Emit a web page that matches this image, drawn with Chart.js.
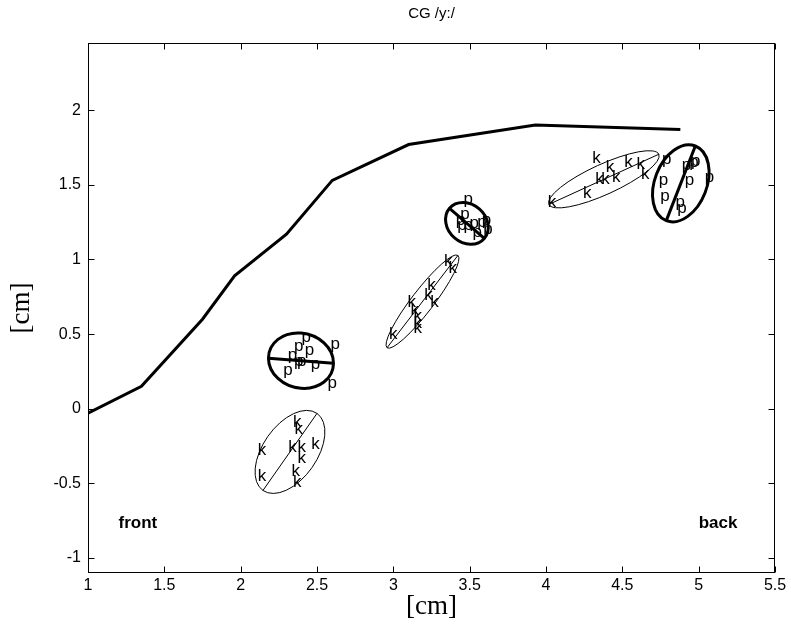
<!DOCTYPE html>
<html>
<head>
<meta charset="utf-8">
<script src="https://cdn.jsdelivr.net/npm/chart.js@4.4.1/dist/chart.umd.min.js"></script>
<style>
  html, body { margin: 0; padding: 0; background: #fff; }
  canvas { display: block; }
</style>
</head>
<body>
<canvas id="cg" width="791" height="626"></canvas>
<script>
// tick values
const xTicks = [1, 1.5, 2, 2.5, 3, 3.5, 4, 4.5, 5, 5.5];
const yTicks = [-1, -0.5, 0, 0.5, 1, 1.5, 2];

// thick CG line
const lineX = [1.0, 1.35, 1.75, 1.96, 2.30, 2.60, 3.10, 3.93, 4.88];
const lineY = [-0.03, 0.15, 0.60, 0.89, 1.17, 1.53, 1.77, 1.90, 1.87];

// "k" tokens
const kX = [2.37, 2.38, 2.14, 2.34, 2.40, 2.40, 2.49, 2.14, 2.36, 2.37,
            3.36, 3.39, 3.25, 3.23, 3.27, 3.12, 3.14, 3.16, 3.16, 3.16, 3.00,
            4.33, 4.42, 4.54, 4.62, 4.35, 4.39, 4.46, 4.65, 4.27, 4.04];
const kY = [-0.09, -0.14, -0.28, -0.26, -0.26, -0.33, -0.24, -0.45, -0.42, -0.49,
            0.99, 0.94, 0.83, 0.76, 0.71, 0.71, 0.66, 0.62, 0.57, 0.54, 0.50,
            1.68, 1.62, 1.65, 1.64, 1.54, 1.54, 1.55, 1.57, 1.44, 1.38];

// "p" tokens
const pX = [2.43, 2.38, 2.45, 2.62, 2.34, 2.38, 2.40, 2.49, 2.31, 2.60,
            3.49, 3.47, 3.44, 3.45, 3.49, 3.53, 3.58, 3.61, 3.62, 3.55,
            4.79, 4.92, 4.97, 4.98, 5.07, 4.77, 4.94, 4.78, 4.88, 4.89];
const pY = [0.46, 0.40, 0.37, 0.41, 0.34, 0.30, 0.30, 0.28, 0.24, 0.15,
            1.38, 1.28, 1.24, 1.21, 1.21, 1.22, 1.23, 1.24, 1.18, 1.16,
            1.65, 1.61, 1.63, 1.64, 1.53, 1.51, 1.51, 1.40, 1.36, 1.32];

// ellipses: centre + two conjugate semi-axes (u = major)
const ellKind = ["p", "k", "k", "p", "k", "p"];
const ellCx = [2.395, 2.323, 3.191, 3.482, 4.379, 4.883];
const ellCy = [0.322, -0.289, 0.718, 1.242, 1.537, 1.510];
const ellUx = [0.213, 0.177, 0.232, 0.114, 0.360, 0.095];
const ellUy = [-0.017, 0.258, 0.309, -0.101, 0.168, 0.250];
const ellVx = [0.0, 0.145, 0.057, -0.081, 0.041, 0.159];
const ellVy = [0.185, -0.104, -0.045, -0.097, -0.092, -0.063];

// text notes
const noteText = ["front", "back"];
const noteX = [1.2, 5.0];
const noteY = [-0.77, -0.77];

const SANS = "'Liberation Sans', Arial, sans-serif";
const SERIF = "'Liberation Serif', 'Times New Roman', serif";

function toPoints(xs, ys) {
  return xs.map((v, i) => ({ x: v, y: ys[i] }));
}

// ellipses, letters, box and inward ticks
const matlabPlugin = {
  id: "matlab",
  afterDatasetsDraw(chart) {
    const { ctx, scales: { x, y } } = chart;
    ctx.save();
    ctx.strokeStyle = "#000";

    // ellipses with their major axis
    ellCx.forEach((cxv, i) => {
      const cx = x.getPixelForValue(cxv);
      const cy = y.getPixelForValue(ellCy[i]);
      const ux = x.getPixelForValue(cxv + ellUx[i]) - cx;
      const uy = y.getPixelForValue(ellCy[i] + ellUy[i]) - cy;
      const vx = x.getPixelForValue(cxv + ellVx[i]) - cx;
      const vy = y.getPixelForValue(ellCy[i] + ellVy[i]) - cy;
      ctx.lineWidth = ellKind[i] === "p" ? 3 : 1;
      ctx.save();
      ctx.beginPath();
      ctx.transform(ux, uy, vx, vy, cx, cy);
      ctx.arc(0, 0, 1, 0, Math.PI * 2);
      ctx.restore();
      ctx.stroke();
      ctx.beginPath();
      ctx.moveTo(cx - ux, cy - uy);
      ctx.lineTo(cx + ux, cy + uy);
      ctx.stroke();
    });

    // letter tokens
    ctx.fillStyle = "#000";
    ctx.font = "17px " + SANS;
    ctx.textAlign = "center";
    ctx.textBaseline = "middle";
    chart.data.datasets.forEach((ds, di) => {
      if (!ds.letter) return;
      const shift = ds.letter === "p" ? -3 : 0;
      chart.getDatasetMeta(di).data.forEach((pt) => {
        ctx.fillText(ds.letter, pt.x, pt.y + shift);
      });
    });

    // front / back
    ctx.font = "bold 17px " + SANS;
    ctx.textAlign = "left";
    noteText.forEach((t, i) => {
      ctx.fillText(t, x.getPixelForValue(noteX[i]), y.getPixelForValue(noteY[i]));
    });
    ctx.restore();
  },
  afterDraw(chart) {
    const { ctx, chartArea: a, scales: { x, y } } = chart;
    ctx.save();
    ctx.strokeStyle = "#000";
    ctx.lineWidth = 1;
    const L = Math.round(a.left) + 0.5, R = Math.round(a.right) - 0.5;
    const T = Math.round(a.top) + 0.5, B = Math.round(a.bottom) - 0.5;
    ctx.strokeRect(L, T, R - L, B - T);
    ctx.beginPath();
    xTicks.forEach((v) => {
      const px = Math.round(x.getPixelForValue(v)) + 0.5;
      ctx.moveTo(px, B); ctx.lineTo(px, B - 6);
      ctx.moveTo(px, T); ctx.lineTo(px, T + 6);
    });
    yTicks.forEach((v) => {
      const py = Math.round(y.getPixelForValue(v)) + 0.5;
      ctx.moveTo(L, py); ctx.lineTo(L + 6, py);
      ctx.moveTo(R, py); ctx.lineTo(R - 6, py);
    });
    ctx.stroke();
    ctx.restore();
  },
};

new Chart(document.getElementById("cg"), {
  type: "scatter",
  data: {
    datasets: [
      {
        label: "CG",
        data: toPoints(lineX, lineY),
        showLine: true,
        borderColor: "#000",
        borderWidth: 3,
        pointRadius: 0,
        tension: 0,
        fill: false,
      },
      { label: "k", letter: "k", data: toPoints(kX, kY), pointRadius: 0 },
      { label: "p", letter: "p", data: toPoints(pX, pY), pointRadius: 0 },
    ],
  },
  options: {
    responsive: false,
    animation: false,
    devicePixelRatio: 1,
    layout: { padding: { left: 0, right: 16, top: 0, bottom: 0 } },
    plugins: {
      legend: { display: false },
      tooltip: { enabled: false },
      title: {
        display: true,
        text: "CG /y:/",
        fullSize: false,
        color: "#000",
        font: { family: SANS, size: 15, weight: "normal" },
        padding: { top: 5, bottom: 20 },
      },
    },
    scales: {
      x: {
        type: "linear",
        min: 1,
        max: 5.5,
        afterBuildTicks: (s) => { s.ticks = xTicks.map((v) => ({ value: v })); },
        afterFit: (s) => { s.height = 53; },
        grid: { display: false, drawTicks: false },
        border: { display: false },
        ticks: {
          color: "#000",
          font: { family: SANS, size: 16 },
          padding: 3,
          maxRotation: 0,
          autoSkip: false,
          callback: (v) => String(v),
        },
        title: {
          display: true,
          text: "[cm]",
          color: "#000",
          font: { family: SERIF, size: 27 },
          padding: { top: 0, bottom: 3 },
        },
      },
      y: {
        type: "linear",
        min: -1.1,
        max: 2.45,
        afterBuildTicks: (s) => { s.ticks = yTicks.map((v) => ({ value: v })); },
        afterFit: (s) => { s.width = 88; },
        grid: { display: false, drawTicks: false },
        border: { display: false },
        ticks: {
          color: "#000",
          font: { family: SANS, size: 16 },
          padding: 7,
          autoSkip: false,
          callback: (v) => String(v),
        },
        title: {
          display: true,
          text: "[cm]",
          color: "#000",
          font: { family: SERIF, size: 27 },
          padding: { top: 6, bottom: 0 },
        },
      },
    },
  },
  plugins: [matlabPlugin],
});
</script>
</body>
</html>
